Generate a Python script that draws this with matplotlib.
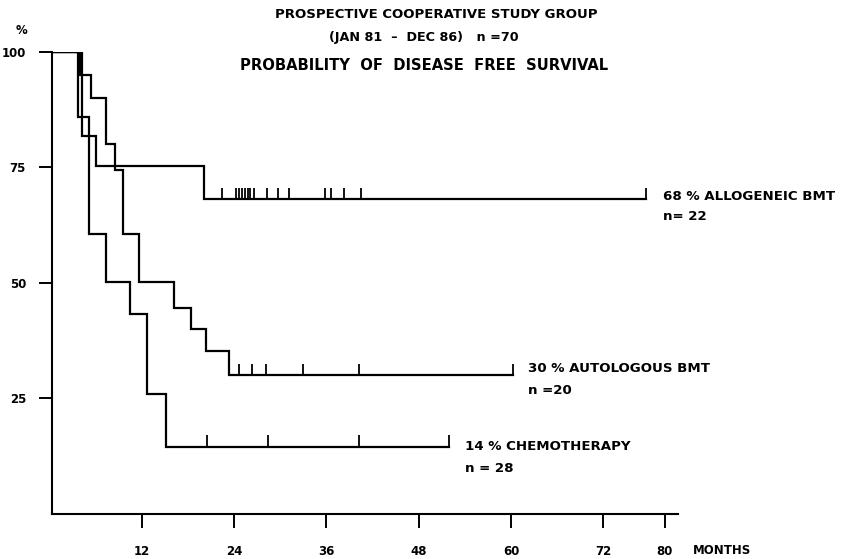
import numpy as np
import matplotlib
matplotlib.use('Agg')
import matplotlib.pyplot as plt

plt.rcParams['font.family'] = ['DejaVu Sans']
plt.rcParams['font.weight'] = 'bold'

# Kaplan-Meier curves (months, % disease free)
allo_t = [0, 4.2, 6.1, 20.1]
allo_s = [100, 81.8, 75.3, 68.2]
allo_end = 77.5
allo_cens = [22.4, 24.2, 24.6, 25.0, 25.4, 25.8, 26.1, 26.6, 28.3, 29.7, 31.2, 35.8, 36.6, 38.3, 40.5]

auto_t = [0, 4.0, 5.4, 7.4, 8.5, 9.6, 11.7, 16.2, 18.4, 20.4, 23.4]
auto_s = [100, 95, 90, 80, 74.5, 60.5, 50.2, 44.6, 40.1, 35.3, 30.1]
auto_end = 60.2
auto_cens = [24.7, 26.3, 28.2, 32.9, 40.3]

chemo_t = [0, 3.7, 5.2, 7.4, 10.5, 12.7, 15.2]
chemo_s = [100, 85.8, 60.5, 50.2, 43.3, 25.9, 14.6]
chemo_end = 52.0
chemo_cens = [20.5, 28.4, 40.3]

labels = ['68 % ALLOGENEIC BMT', '30 % AUTOLOGOUS BMT', '14 % CHEMOTHERAPY']
n_labels = ['n= 22', 'n =20', 'n = 28']

xticks = [12, 24, 36, 48, 60, 72, 80]
yticks = [25, 50, 75, 100]

fig = plt.figure(figsize=(8.43, 5.59), dpi=100)
ax = fig.add_axes([51.7 / 843, 45 / 559, (678 - 51.7) / 843, 462.3 / 559])

tick_h = 2.4
for t, s, end, cens in [(allo_t, allo_s, allo_end, allo_cens),
                        (auto_t, auto_s, auto_end, auto_cens),
                        (chemo_t, chemo_s, chemo_end, chemo_cens)]:
    ts = list(t) + [end]
    ss = list(s) + [s[-1]]
    ax.step(ts, ss, where='post', color='black', lw=1.6, solid_joinstyle='miter')
    idx = np.searchsorted(t, cens, side='right') - 1
    lev = np.array(s)[idx]
    ax.vlines(cens, lev, lev + tick_h, color='black', lw=1.3)
    ax.vlines([end], s[-1], s[-1] + tick_h, color='black', lw=1.3)

ax.set_xlim(0.3, 81.7)
ax.set_ylim(0, 100)
for sp in ['top', 'right']:
    ax.spines[sp].set_visible(False)
for sp in ['left', 'bottom']:
    ax.spines[sp].set_linewidth(1.5)
ax.set_xticks(xticks)
ax.set_yticks(yticks)
ax.tick_params(axis='x', direction='out', length=10, width=1.4, pad=12, labelsize=8.5)
ax.tick_params(axis='y', direction='out', length=9.5, width=1.4, pad=9, labelsize=8.5)
for lab in ax.get_xticklabels() + ax.get_yticklabels():
    lab.set_fontweight('bold')

# curve labels
fs = 9.6
fig.text(663 / 843, 1 - 197 / 559, labels[0], fontsize=fs, fontweight='bold', va='center')
fig.text(663 / 843, 1 - 216 / 559, n_labels[0], fontsize=fs, fontweight='bold', va='center')
fig.text(528 / 843, 1 - 369 / 559, labels[1], fontsize=fs, fontweight='bold', va='center')
fig.text(528 / 843, 1 - 390 / 559, n_labels[1], fontsize=fs, fontweight='bold', va='center')
fig.text(465 / 843, 1 - 446 / 559, labels[2], fontsize=fs, fontweight='bold', va='center')
fig.text(465 / 843, 1 - 468 / 559, n_labels[2], fontsize=fs, fontweight='bold', va='center')

# titles
fig.text(436 / 843, 1 - 15 / 559, 'PROSPECTIVE COOPERATIVE STUDY GROUP', fontsize=9.5,
         fontweight='bold', ha='center', va='center')
fig.text(424 / 843, 1 - 38 / 559, '(JAN 81  \u2013  DEC 86)   n =70', fontsize=9.2,
         fontweight='bold', ha='center', va='center')
fig.text(424 / 843, 1 - 65 / 559, 'PROBABILITY  OF  DISEASE  FREE  SURVIVAL', fontsize=10.6,
         fontweight='bold', ha='center', va='center')

fig.text(21 / 843, 1 - 31 / 559, '%', fontsize=8.5, fontweight='bold', ha='center', va='center')
fig.text(693 / 843, 1 - 550 / 559, 'MONTHS', fontsize=8.5, fontweight='bold', ha='left', va='center')

fig.savefig('out.png', dpi=100)
